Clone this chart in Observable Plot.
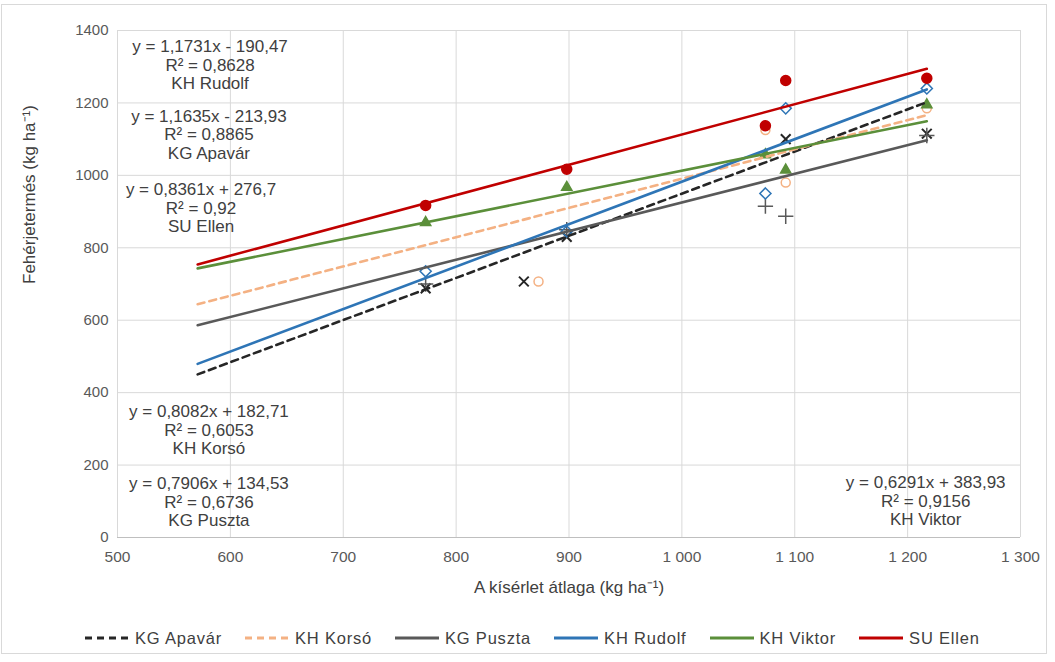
<!DOCTYPE html>
<html><head><meta charset="utf-8">
<script src="https://cdn.jsdelivr.net/npm/d3@7"></script>
<script src="https://cdn.jsdelivr.net/npm/@observablehq/plot@0.6"></script>
<style>
html,body{margin:0;padding:0;background:#fff;}
body{font-family:"Liberation Sans",Arial,sans-serif;width:1055px;height:662px;position:relative;overflow:hidden;}
#border{position:absolute;left:1px;top:4px;width:1046px;height:650px;border:1px solid #d9d9d9;box-sizing:border-box;}
#chart{position:absolute;left:0;top:0;}
#legend{position:absolute;left:84px;top:620px;height:36px;display:flex;justify-content:flex-start;align-items:center;font-size:16.5px;letter-spacing:0.8px;color:#404040;white-space:nowrap;}
.item{display:flex;align-items:center;margin-right:22px;}
.item svg{margin-right:5px;}
</style></head>
<body>
<div id="border"></div>
<div id="chart"></div>
<div id="legend"></div>
<script>
// ---- data ----
const series = ["KG Apavár", "KH Korsó", "KG Puszta", "KH Rudolf", "KH Viktor", "SU Ellen"];
const slopes = [1.1635, 0.8082, 0.7906, 1.1731, 0.6291, 0.8361];
const intercepts = [-213.93, 182.71, 134.53, -190.47, 383.93, 276.7];
const eqTexts = ["y = 1,1635x - 213,93", "y = 0,8082x + 182,71", "y = 0,7906x + 134,53", "y = 1,1731x - 190,47", "y = 0,6291x + 383,93", "y = 0,8361x + 276,7"];
const r2Texts = ["R² = 0,8865", "R² = 0,6053", "R² = 0,6736", "R² = 0,8628", "R² = 0,9156", "R² = 0,92"];
const trendFrom = 571;
const trendTo = 1217;

const apavarX = [773, 860, 898, 1092, 1217];
const apavarY = [688, 707, 830, 1100, 1115];
const korsoX = [873, 1074, 1092, 1217];
const korsoY = [707, 1125, 980, 1185];
const pusztaX = [773, 898, 1074, 1092, 1217];
const pusztaY = [700, 850, 915, 887, 1110];
const rudolfX = [773, 898, 1074, 1092, 1217];
const rudolfY = [735, 845, 950, 1185, 1240];
const viktorX = [773, 898, 1074, 1092, 1217];
const viktorY = [870, 967, 1057, 1015, 1195];
const ellenX = [773, 898, 1074, 1092, 1217];
const ellenY = [917, 1017, 1137, 1262, 1268];

const xTicks = [500, 600, 700, 800, 900, 1000, 1100, 1200, 1300];
const yTicks = [0, 200, 400, 600, 800, 1000, 1200, 1400];

// ---- styles ----
const colors = ["#262626", "#f4b183", "#595959", "#2e75b6", "#5b8f3a", "#c00000"];
const dashArr = ["7,5", "7,5", null, null, null, null];
const symbols = ["times", "circle", "plus", "diamond2", "triangle", "circle"];
const fills = ["none", "none", "none", "none", "#5b8f3a", "#c00000"];
const markerR = [4.5, 4.5, 5, 5, 3.8, 5];
// label placement (data units): [x, y] top of block
const labelPos = {"KH Rudolf": [582, 1377], "KG Apavár": [581, 1184], "SU Ellen": [574, 982], "KH Korsó": [581, 369], "KG Puszta": [581, 170], "KH Viktor": [1216, 173]};

const pointX = [apavarX, korsoX, pusztaX, rudolfX, viktorX, ellenX];
const pointY = [apavarY, korsoY, pusztaY, rudolfY, viktorY, ellenY];

const huFmt = d3.formatLocale({decimal: ",", thousands: "\u00a0", grouping: [3], currency: ["", ""]}).format(",");

const marks = [
  Plot.gridX(xTicks, {stroke: "#d9d9d9", strokeOpacity: 1, strokeWidth: 1}),
  Plot.gridY(yTicks, {stroke: "#d9d9d9", strokeOpacity: 1, strokeWidth: 1}),
  Plot.ruleY([0], {stroke: "#bfbfbf", strokeWidth: 1}),
  Plot.axisX({ticks: xTicks, tickSize: 0, tickPadding: 13, tickFormat: huFmt, label: null, fontSize: 15.5, color: "#595959"}),
  Plot.axisY({ticks: yTicks, tickSize: 0, tickPadding: 9, tickFormat: d => String(d), label: null, fontSize: 15, color: "#595959"})
];

series.forEach((s, i) => {
  const pts = pointX[i].map((x, j) => ({x, y: pointY[i][j]}));
  marks.push(Plot.dot(pts, {x: "x", y: "y", symbol: () => symbols[i], r: markerR[i],
    stroke: colors[i], fill: fills[i], strokeWidth: symbols[i] === "times" ? 2 : 1.5}));
});

series.forEach((s, i) => {
  const ends = [trendFrom, trendTo].map(x => ({x, y: slopes[i] * x + intercepts[i]}));
  marks.push(Plot.line(ends, {x: "x", y: "y", stroke: colors[i], strokeWidth: 2.6, strokeDasharray: dashArr[i]}));
});

series.forEach((s, i) => {
  const [lx, ly] = labelPos[s];
  marks.push(Plot.text([{x: lx, y: ly, t: eqTexts[i] + "\n" + r2Texts[i] + "\n" + s}], {
    x: "x", y: "y", text: "t", lineAnchor: "top", textAnchor: "middle", lineHeight: 1.09,
    fontSize: 17, fill: "#404040", letterSpacing: "0.3px"}));
});

marks.push(Plot.text(["Fehérjetermés (kg ha⁻¹)"], {frameAnchor: "left", dx: -88, rotate: -90, fontSize: 17, fill: "#404040", text: d => d}));
marks.push(Plot.text(["A kísérlet átlaga (kg ha⁻¹)"], {frameAnchor: "bottom", dy: 55, fontSize: 17, fill: "#404040", letterSpacing: "0.6px", text: d => d}));

const chart = Plot.plot({
  width: 1055,
  height: 615,
  marginLeft: 117,
  marginRight: 35,
  marginTop: 30,
  marginBottom: 78,
  style: {fontFamily: "'Liberation Sans', Arial, sans-serif", background: "transparent", overflow: "visible"},
  x: {domain: [500, 1300]},
  y: {domain: [0, 1400]},
  marks
});
document.getElementById("chart").appendChild(chart);

const legend = document.getElementById("legend");
series.forEach((s, i) => {
  const item = document.createElement("div");
  item.className = "item";
  item.innerHTML = `<svg width="46" height="10"><line x1="1" y1="5" x2="45" y2="5" stroke="${colors[i]}" stroke-width="3" ${dashArr[i] ? `stroke-dasharray="${dashArr[i]}"` : ""}/></svg><span>${s}</span>`;
  legend.appendChild(item);
});
</script>
</body></html>
